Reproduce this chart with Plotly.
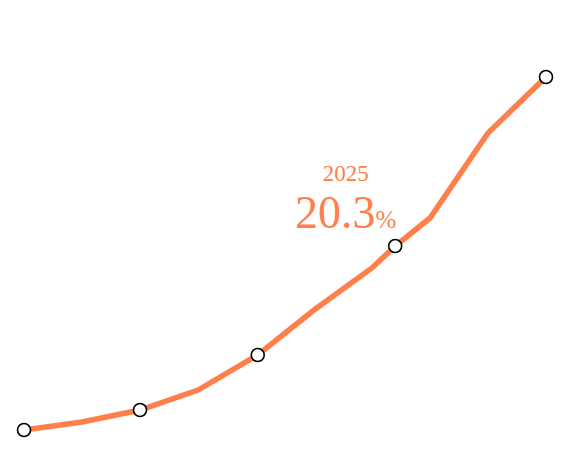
import plotly.graph_objects as go

# line vertices (x in steps, y in %)
x_line = [0, 1, 2, 3, 4.03, 5, 6, 6.4, 7, 8, 9]
y_line = [1.9, 2.7, 3.9, 5.9, 9.4, 13.9, 18.1, 20.3, 23.1, 31.6, 37.2]

# highlighted points
x_marks = [0, 2, 4.03, 6.4, 9]
y_marks = [1.9, 3.9, 9.4, 20.3, 37.2]

label_year = "2025"
label_value = 20.3

LINE_COLOR = "#ff7f4b"

fig = go.Figure()
fig.add_trace(go.Scatter(
    x=x_line, y=y_line, mode="lines",
    line=dict(color=LINE_COLOR, width=5.5),
    hoverinfo="skip"
))
fig.add_trace(go.Scatter(
    x=x_marks, y=y_marks, mode="markers",
    marker=dict(size=13, color="white", line=dict(color="black", width=1.6)),
    hoverinfo="skip"
))

# one annotation: year on top, value below (base size sets line spacing)
label = (f"<span style='font-size:23px'>{label_year}</span><br>"
         f"<span style='font-size:46px'>{label_value}</span>"
         f"<span style='font-size:25px'>%</span>")
# page has an 8px body margin, so positions are offset by 8
fig.add_annotation(
    x=(345 - 8) / 571, y=1 - (200 - 8) / 453, xref="paper", yref="paper",
    text=label, showarrow=False, xanchor="center", yanchor="middle",
    font=dict(family="Liberation Serif", size=36.5, color=LINE_COLOR)
)

fig.update_layout(
    width=571, height=453,
    margin=dict(l=0, r=0, t=0, b=0),
    paper_bgcolor="white", plot_bgcolor="white",
    showlegend=False,
    xaxis=dict(range=[-0.276, 9.569], visible=False, fixedrange=True),
    yaxis=dict(range=[-1.2, 44.1], visible=False, fixedrange=True),
)

fig.write_html("out.html", config={"displayModeBar": False})
